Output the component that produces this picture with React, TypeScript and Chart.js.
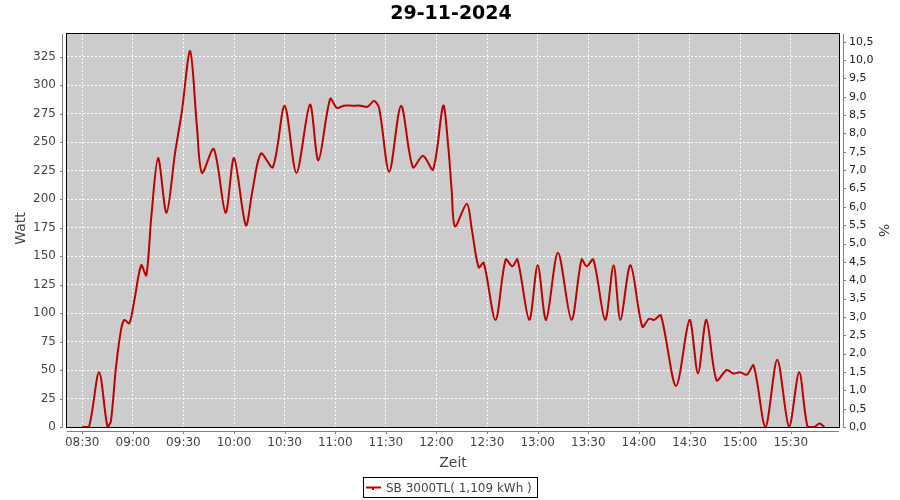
import React, { useEffect, useRef } from "react";
import { Chart, registerables } from "chart.js";

Chart.register(...registerables);

const TITLE = "29-11-2024";
const SERIES_LABEL = "SB 3000TL( 1,109 kWh )";
const X_TITLE = "Zeit";
const Y_TITLE = "Watt";
const Y1_TITLE = "%";

const times = [
  "08:30", "08:34", "08:40", "08:45", "08:47", "08:50", "08:53", "08:55", "08:58",
  "09:01", "09:05", "09:08", "09:11", "09:15", "09:20", "09:25", "09:29", "09:34",
  "09:38", "09:41", "09:48", "09:55", "10:00", "10:07", "10:11", "10:16", "10:23",
  "10:30", "10:37", "10:45", "10:50", "10:57", "11:01", "11:05", "11:10", "11:15",
  "11:19", "11:23", "11:26", "11:32", "11:39", "11:46", "11:52", "11:58", "12:04",
  "12:07", "12:09", "12:11", "12:18", "12:21", "12:25", "12:28", "12:35", "12:41",
  "12:45", "12:48", "12:55", "13:00", "13:05", "13:12", "13:20", "13:26", "13:29",
  "13:33", "13:40", "13:45", "13:49", "13:55", "14:02", "14:06", "14:09", "14:13",
  "14:22", "14:30", "14:35", "14:40", "14:46", "14:52", "14:56", "15:00", "15:04",
  "15:08", "15:15", "15:22", "15:29", "15:35", "15:40", "15:44", "15:47", "15:50",
];

const watts = [
  0, 0, 48, 0, 5, 52, 85, 94, 91,
  112, 142, 133, 185, 236, 188, 240, 276, 330,
  264, 223, 244, 188, 236, 177, 208, 240, 228,
  282, 223, 283, 234, 288, 280, 282, 282, 282,
  281, 286, 280, 224, 282, 228, 238, 226, 282,
  246, 208, 176, 196, 173, 140, 144, 94, 147,
  141, 147, 94, 142, 94, 153, 94, 147, 141,
  147, 94, 142, 94, 142, 88, 95, 94, 98,
  36, 94, 47, 94, 41, 50, 47, 48, 46,
  54, 0, 59, 0, 48, 0, 0, 3, 0,
];

const xTickLabels = [
  "08:30", "09:00", "09:30", "10:00", "10:30", "11:00", "11:30", "12:00",
  "12:30", "13:00", "13:30", "14:00", "14:30", "15:00", "15:30",
];
const leftTicks = [0, 25, 50, 75, 100, 125, 150, 175, 200, 225, 250, 275, 300, 325];
const rightTicks = [0, 0.5, 1, 1.5, 2, 2.5, 3, 3.5, 4, 4.5, 5, 5.5, 6, 6.5, 7, 7.5, 8, 8.5, 9, 9.5, 10, 10.5];

const X_MIN = 501;
const X_MAX = 958.6;
const Y_MAX = 344.9;
const Y1_MAX = 10.71;

const toMin = (s: string) => {
  const [h, m] = s.split(":").map(Number);
  return h * 60 + m;
};
const fmtTime = (v: number) => {
  const h = Math.floor(v / 60);
  const m = Math.round(v - h * 60);
  return String(h).padStart(2, "0") + ":" + String(m).padStart(2, "0");
};

const FONT = "DejaVu Sans";
const TEXT = "#444444";
const AXIS = "#808080";
const LINE = "#bb0000";

const decorPlugin = {
  id: "decor",
  beforeDraw(chart: any) {
    const { ctx, chartArea: a } = chart;
    ctx.save();
    ctx.fillStyle = "#ffffff";
    ctx.fillRect(0, 0, chart.width, chart.height);
    ctx.fillStyle = "#cccccc";
    ctx.fillRect(a.left, a.top, a.right - a.left, a.bottom - a.top);
    ctx.restore();
  },
  afterDraw(chart: any) {
    const { ctx, chartArea: a, scales } = chart;
    ctx.save();
    ctx.strokeStyle = "#000000";
    ctx.lineWidth = 1;
    ctx.strokeRect(Math.round(a.left) - 0.5, Math.round(a.top) - 0.5, Math.round(a.right - a.left) + 1, Math.round(a.bottom - a.top) + 1);

    ctx.strokeStyle = AXIS;
    ctx.beginPath();
    const lx = Math.round(a.left) - 4.5;
    ctx.moveTo(lx, a.top);
    ctx.lineTo(lx, a.bottom + 0.5);
    scales.y.ticks.forEach((t: any) => {
      const y = Math.round(scales.y.getPixelForValue(t.value)) + 0.5;
      ctx.moveTo(lx - 2.5, y);
      ctx.lineTo(lx, y);
    });
    const rx = Math.round(a.right) + 4.5;
    ctx.moveTo(rx, a.top);
    ctx.lineTo(rx, a.bottom + 0.5);
    scales.y1.ticks.forEach((t: any) => {
      const y = Math.round(scales.y1.getPixelForValue(t.value)) + 0.5;
      ctx.moveTo(rx, y);
      ctx.lineTo(rx + 2.5, y);
    });
    const by = Math.round(a.bottom) + 4.5;
    ctx.moveTo(a.left, by);
    ctx.lineTo(a.right, by);
    scales.x.ticks.forEach((t: any) => {
      const x = Math.round(scales.x.getPixelForValue(t.value)) + 0.5;
      ctx.moveTo(x, by);
      ctx.lineTo(x, by + 2.5);
    });
    ctx.stroke();

    ctx.fillStyle = "#000000";
    ctx.font = `bold 19px "${FONT}"`;
    ctx.textAlign = "center";
    ctx.textBaseline = "alphabetic";
    ctx.fillText(TITLE, 451, 19);

    ctx.fillStyle = TEXT;
    ctx.font = `14px "${FONT}"`;
    ctx.fillText(X_TITLE, (a.left + a.right) / 2, 467);
    ctx.save();
    ctx.translate(25, (a.top + a.bottom) / 2 - 2);
    ctx.rotate(-Math.PI / 2);
    ctx.fillText(Y_TITLE, 0, 0);
    ctx.restore();
    ctx.save();
    ctx.translate(882.5, (a.top + a.bottom) / 2);
    ctx.rotate(Math.PI / 2);
    ctx.textBaseline = "middle";
    ctx.fillText(Y1_TITLE, 0, 0);
    ctx.restore();

    ctx.strokeStyle = "#000000";
    ctx.lineWidth = 1;
    ctx.strokeRect(363.5, 477.5, 174, 20);
    ctx.strokeStyle = LINE;
    ctx.lineWidth = 2;
    ctx.beginPath();
    ctx.moveTo(366, 487.5);
    ctx.lineTo(381, 487.5);
    ctx.stroke();
    ctx.fillStyle = LINE;
    ctx.fillRect(372, 488, 2, 2);
    ctx.fillStyle = TEXT;
    ctx.font = `12px "${FONT}"`;
    ctx.textAlign = "left";
    ctx.fillText(SERIES_LABEL, 386, 491.5);
    ctx.restore();
  },
};

export default function App() {
  const ref = useRef<HTMLCanvasElement | null>(null);

  useEffect(() => {
    document.body.style.margin = "0";
    const canvas = ref.current;
    if (!canvas) return;
    const chart = new Chart(canvas, {
      type: "line",
      data: {
        datasets: [
          {
            label: SERIES_LABEL,
            data: times.map((t, i) => ({ x: toMin(t), y: watts[i] })),
            borderColor: LINE,
            backgroundColor: LINE,
            borderWidth: 2,
            pointRadius: 0,
            tension: 0.3,
            yAxisID: "y",
            fill: false,
          },
        ],
      },
      options: {
        animation: false,
        responsive: false,
        devicePixelRatio: 1,
        layout: { padding: { top: 34, left: 0, right: 0, bottom: 0 } },
        plugins: {
          legend: { display: false },
          title: { display: false },
          tooltip: { enabled: false },
        },
        scales: {
          x: {
            type: "linear",
            position: "bottom",
            min: X_MIN,
            max: X_MAX,
            afterBuildTicks: (s: any) => {
              s.ticks = xTickLabels.map((l) => ({ value: toMin(l) }));
            },
            afterFit: (s: any) => {
              s.height = 73;
            },
            ticks: {
              callback: (v: any) => fmtTime(Number(v)),
              font: { family: FONT, size: 12 },
              color: TEXT,
              padding: 9,
              maxRotation: 0,
              autoSkip: false,
            },
            grid: { color: "#ffffff", lineWidth: 1, drawTicks: false },
            border: { display: false, dash: [2, 2] },
          },
          y: {
            type: "linear",
            position: "left",
            min: 0,
            max: Y_MAX,
            afterBuildTicks: (s: any) => {
              s.ticks = leftTicks.map((v) => ({ value: v }));
            },
            afterFit: (s: any) => {
              s.width = 67;
            },
            ticks: {
              font: { family: FONT, size: 12 },
              color: TEXT,
              padding: 11,
            },
            grid: { color: "#ffffff", lineWidth: 1, drawTicks: false },
            border: { display: false, dash: [2, 2] },
          },
          y1: {
            type: "linear",
            position: "right",
            min: 0,
            max: Y1_MAX,
            afterBuildTicks: (s: any) => {
              s.ticks = rightTicks.map((v) => ({ value: v }));
            },
            afterFit: (s: any) => {
              s.width = 61;
            },
            ticks: {
              callback: (v: any) => Number(v).toFixed(1).replace(".", ","),
              font: { family: FONT, size: 11 },
              color: "#222222",
              padding: 10,
            },
            grid: { display: false, drawTicks: false },
            border: { display: false },
          },
        },
      },
      plugins: [decorPlugin],
    } as any);
    return () => chart.destroy();
  }, []);

  return (
    <div style={{ width: 900, height: 500 }}>
      <canvas ref={ref} width={900} height={500} style={{ display: "block", width: 900, height: 500 }} />
    </div>
  );
}
